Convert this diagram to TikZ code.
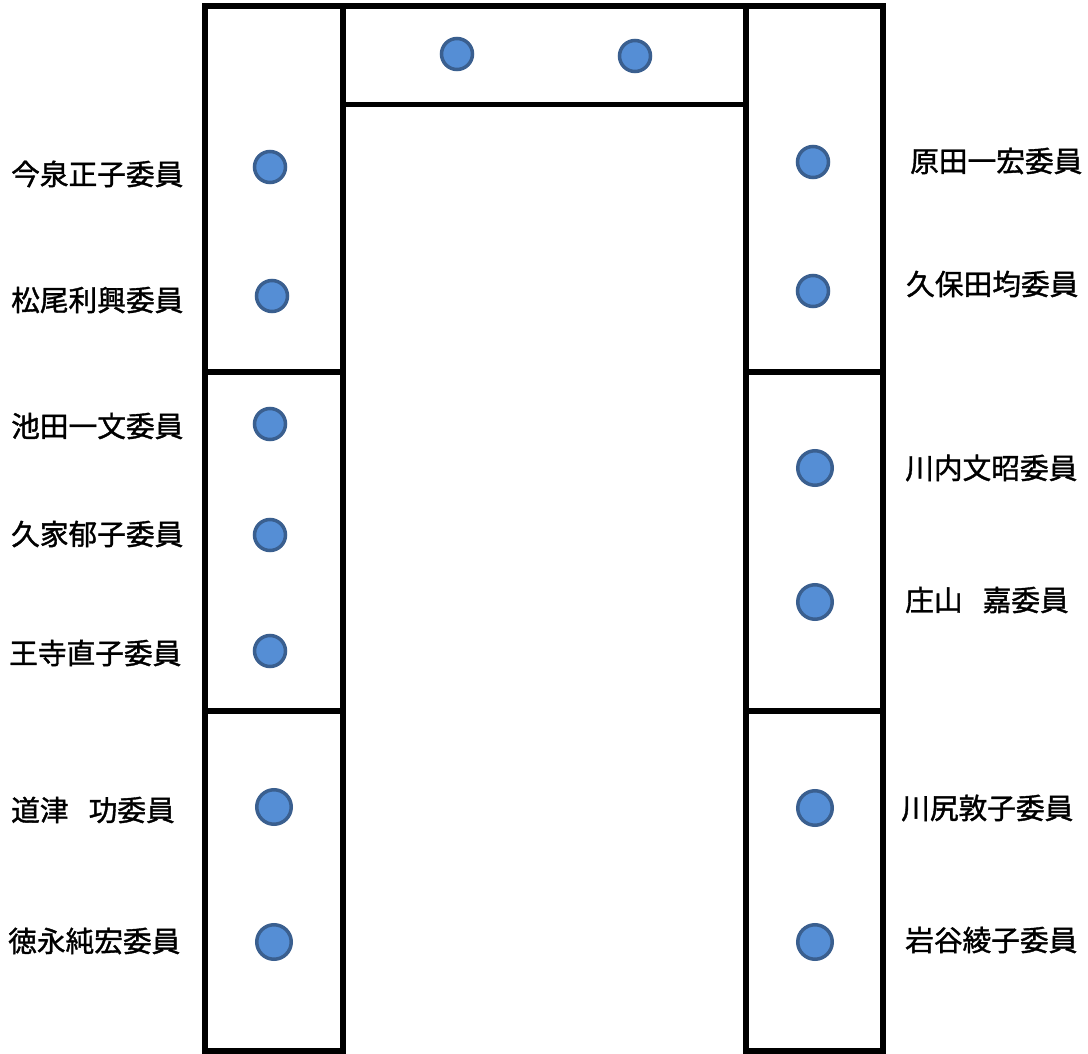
\documentclass[tikz,border=0pt]{standalone}
\usepackage{fontspec}
\newfontfamily\jpfont[BoldFont={Noto Sans CJK JP},BoldFeatures={FakeBold=1.3}]{Noto Sans CJK JP}
\definecolor{seatfill}{HTML}{558ED5}
\definecolor{seatline}{HTML}{3A5F8F}
\tikzset{
	seat/.style={circle,draw=seatline,fill=seatfill,line width=3.5pt,minimum size=31pt,inner sep=0pt},
	bigseat/.style={seat,minimum size=34.5pt},
	member/.style={anchor=west,inner sep=0pt,font=\jpfont\bfseries\fontsize{28.7pt}{34pt}\selectfont},
	frame/.style={line width=5.7pt}
}
\begin{document}
\begin{tikzpicture}[x=1pt,y=-1pt]

	\useasboundingbox (0,0) rectangle (1088,1054);

	\def\top{6}
	\def\bot{1051}
	\def\ya{372}
	\def\yb{711}

	% tables
	\draw[frame] (205,\top) rectangle (343,\ya);
	\draw[frame] (205,\ya) rectangle (343,\yb);
	\draw[frame] (205,\yb) rectangle (343,\bot);
	\draw[frame] (343,\top) rectangle (746,104.5);
	\draw[frame] (746,\top) rectangle (883,\ya);
	\draw[frame] (746,\ya) rectangle (883,\yb);
	\draw[frame] (746,\yb) rectangle (883,\bot);

	% top seats
	\node[seat] (t1) at (457,54) {};
	\node[seat] (t2) at (635,56) {};

	% left side
	\node[seat] (l1) at (270,167) {};
	\node[seat] (l2) at (272,296) {};
	\node[seat] (l3) at (270,424) {};
	\node[seat] (l4) at (270,535) {};
	\node[seat] (l5) at (270,651) {};
	\node[bigseat] (l6) at (274,807) {};
	\node[bigseat] (l7) at (274,942) {};

	\node[member] (n1) at (11,174) {今泉正子委員};
	\node[member] (n2) at (11,300) {松尾利興委員};
	\node[member] (n3) at (11,426) {池田一文委員};
	\node[member] (n4) at (11,534) {久家郁子委員};
	\node[member] (n5) at (9,653) {王寺直子委員};
	\node[member] (n6) at (11,810) {道津\hspace{0.7em}功委員};
	\node[member] (n7) at (8,941) {徳永純宏委員};

	% right side
	\node[seat] (r1) at (813,162) {};
	\node[seat] (r2) at (813,291) {};
	\node[bigseat] (r3) at (815,468) {};
	\node[bigseat] (r4) at (815,602) {};
	\node[bigseat] (r5) at (815,808) {};
	\node[bigseat] (r6) at (815,942) {};

	\node[member] (m1) at (910,161) {原田一宏委員};
	\node[member] (m2) at (906,284) {久保田均委員};
	\node[member] (m3) at (905,468) {川内文昭委員};
	\node[member] (m4) at (905,600) {庄山\hspace{0.7em}嘉委員};
	\node[member] (m5) at (901,808) {川尻敦子委員};
	\node[member] (m6) at (905,940) {岩谷綾子委員};
\end{tikzpicture}
\end{document}
